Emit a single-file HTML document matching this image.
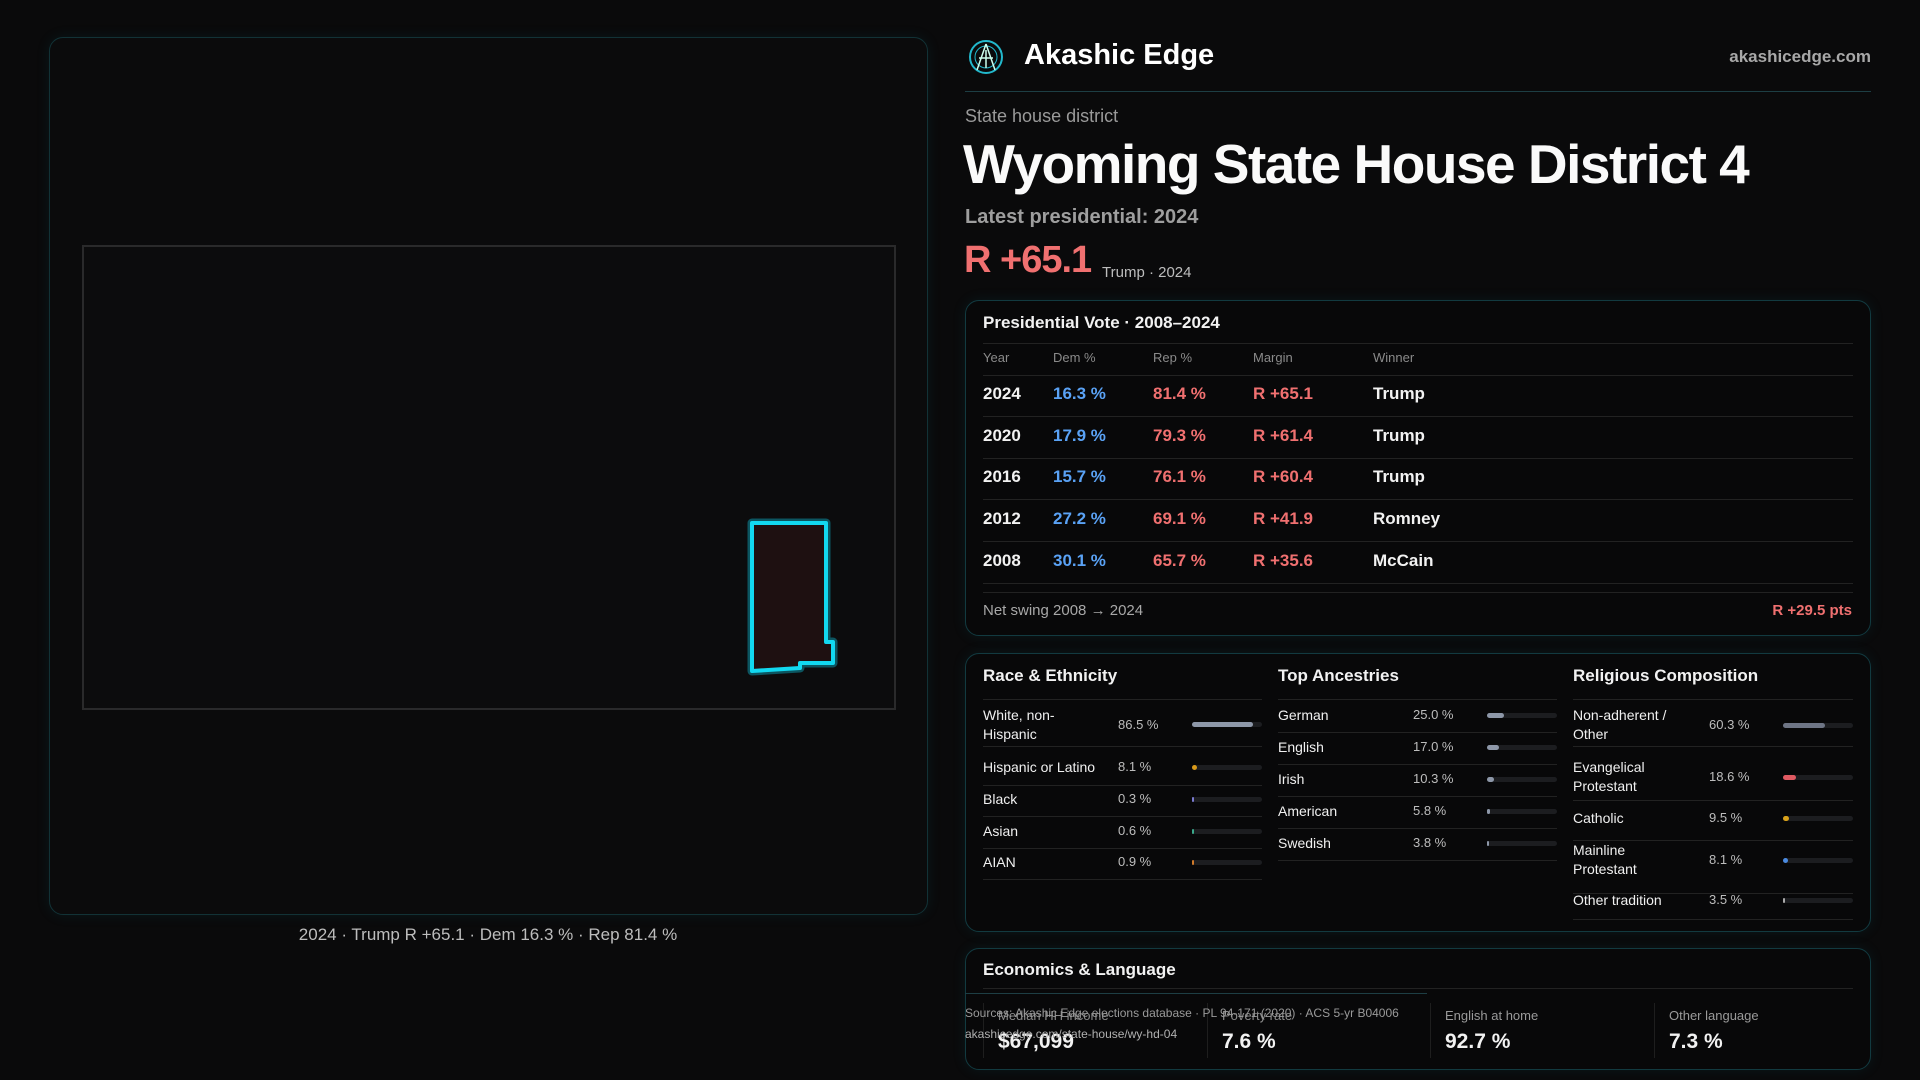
<!DOCTYPE html>
<html><head><meta charset="utf-8"><style>
*{margin:0;padding:0;box-sizing:border-box}
body{width:1920px;height:1080px;background:#0a0a0b;font-family:"Liberation Sans",sans-serif;color:#f2f2f2;position:relative;overflow:hidden}
.a{position:absolute;white-space:nowrap}
.card{position:absolute;border:1.5px solid #123a40;border-radius:14px;background:#080809;box-shadow:0 0 14px rgba(20,120,140,0.12)}
.sep{position:absolute;height:1px;background:#222}
.blue{color:#5aa2f5}.red{color:#f07070}
.bar{position:absolute;height:5px;border-radius:3px;background:#1c1d20}
.fill{position:absolute;left:0;top:0;height:5px;border-radius:3px}
.lbl{font-size:14px;color:#f0f0f0;line-height:19px}
.val{font-size:13px;color:#bdbdbd}
</style></head><body>

<!-- left map panel -->
<div class="card" style="left:49px;top:37px;width:879px;height:878px;background:#0b0b0c;border-color:#123236"></div>
<div class="a" style="left:82px;top:245px;width:814px;height:465px;border:2px solid #2a2a2b;background:#0c0c0d"></div>
<svg class="a" style="left:0;top:0" width="1920" height="1080">
<polygon points="752,523 826,523 826,642 833,642 833,663 800,663 800,668 752,671" fill="#1e1011" stroke="#0c5560" stroke-width="9" stroke-linejoin="round"/>
<polygon points="752,523 826,523 826,642 833,642 833,663 800,663 800,668 752,671" fill="#1e1011" stroke="#12d8f0" stroke-width="4" stroke-linejoin="round"/>
</svg>
<div class="a" style="left:0;width:976px;top:925px;text-align:center;font-size:17px;color:#bdbdbd">2024 · Trump R +65.1 · Dem 16.3 % · Rep 81.4 %</div>

<!-- header -->
<svg class="a" style="left:967px;top:38px" width="38" height="38"><circle cx="19" cy="19" r="16" fill="none" stroke="#22b8cc" stroke-width="2"/><circle cx="19" cy="19" r="11" fill="none" stroke="#22b8cc" stroke-width="1"/><path d="M19 6 L10 32 M19 6 L28 32 M12 20 L26 20 M19 12 L19 30" stroke="#cfe" stroke-width="1.5"/></svg>
<div class="a" style="left:1024px;top:39px;font-size:29px;font-weight:bold;color:#fff">Akashic Edge</div>
<div class="a" style="right:49px;top:47px;font-size:17px;font-weight:bold;color:#a8a8a8">akashicedge.com</div>
<div class="a" style="left:965px;top:91px;width:906px;height:1px;background:#1d3e44"></div>
<div class="a" style="left:965px;top:106px;font-size:18px;color:#9a9a9a">State house district</div>
<div class="a" style="left:963px;top:132px;font-size:55px;font-weight:bold;color:#fafafa;letter-spacing:-1.5px">Wyoming State House District 4</div>
<div class="a" style="left:965px;top:206px;font-size:20px;font-weight:bold;color:#9e9e9e">Latest presidential: 2024</div>
<div class="a" style="left:964px;top:239px;font-size:38px;font-weight:bold;color:#f07070;letter-spacing:-1px">R +65.1</div>
<div class="a" style="left:1102px;top:264px;font-size:15px;color:#bdbdbd">Trump · 2024</div>

<!-- presidential card -->
<div class="card" style="left:965px;top:300px;width:906px;height:336px"></div>
<div class="a" style="left:983px;top:313px;font-size:17px;font-weight:bold">Presidential Vote · 2008–2024</div>
<div class="sep" style="left:983px;top:343px;width:870px"></div>
<div class="a" style="left:983px;top:350px;font-size:13px;color:#8a8a8a">Year</div>
<div class="a" style="left:1053px;top:350px;font-size:13px;color:#8a8a8a">Dem %</div>
<div class="a" style="left:1153px;top:350px;font-size:13px;color:#8a8a8a">Rep %</div>
<div class="a" style="left:1253px;top:350px;font-size:13px;color:#8a8a8a">Margin</div>
<div class="a" style="left:1373px;top:350px;font-size:13px;color:#8a8a8a">Winner</div>
<div class="sep" style="left:983px;top:375px;width:870px"></div>
<div style="position:absolute;left:983px;top:384px;font-size:17px;font-weight:bold">
<div class="a" style="top:0">2024</div><div class="a blue" style="left:70px;top:0">16.3 %</div><div class="a red" style="left:170px;top:0">81.4 %</div><div class="a red" style="left:270px;top:0">R +65.1</div><div class="a" style="left:390px;top:0">Trump</div>
<div class="a" style="top:42px">2020</div><div class="a blue" style="left:70px;top:42px">17.9 %</div><div class="a red" style="left:170px;top:42px">79.3 %</div><div class="a red" style="left:270px;top:42px">R +61.4</div><div class="a" style="left:390px;top:42px">Trump</div>
<div class="a" style="top:83px">2016</div><div class="a blue" style="left:70px;top:83px">15.7 %</div><div class="a red" style="left:170px;top:83px">76.1 %</div><div class="a red" style="left:270px;top:83px">R +60.4</div><div class="a" style="left:390px;top:83px">Trump</div>
<div class="a" style="top:125px">2012</div><div class="a blue" style="left:70px;top:125px">27.2 %</div><div class="a red" style="left:170px;top:125px">69.1 %</div><div class="a red" style="left:270px;top:125px">R +41.9</div><div class="a" style="left:390px;top:125px">Romney</div>
<div class="a" style="top:167px">2008</div><div class="a blue" style="left:70px;top:167px">30.1 %</div><div class="a red" style="left:170px;top:167px">65.7 %</div><div class="a red" style="left:270px;top:167px">R +35.6</div><div class="a" style="left:390px;top:167px">McCain</div>
</div>
<div class="sep" style="left:983px;top:416px;width:870px"></div>
<div class="sep" style="left:983px;top:458px;width:870px"></div>
<div class="sep" style="left:983px;top:499px;width:870px"></div>
<div class="sep" style="left:983px;top:541px;width:870px"></div>
<div class="sep" style="left:983px;top:583px;width:870px"></div>
<div class="sep" style="left:983px;top:592px;width:870px"></div>
<div class="a" style="left:983px;top:602px;font-size:15px;color:#a8a8a8">Net swing 2008 → 2024</div>
<div class="a red" style="right:68px;top:602px;font-size:15px;font-weight:bold">R +29.5 pts</div>

<!-- demographics card -->
<div class="card" style="left:965px;top:653px;width:906px;height:279px"></div>
<div class="a" style="left:983px;top:666px;font-size:17px;font-weight:bold">Race &amp; Ethnicity</div>
<div class="a" style="left:1278px;top:666px;font-size:17px;font-weight:bold">Top Ancestries</div>
<div class="a" style="left:1573px;top:666px;font-size:17px;font-weight:bold">Religious Composition</div>
<div class="sep" style="left:983px;top:699px;width:279px"></div>
<div class="sep" style="left:1278px;top:699px;width:279px"></div>
<div class="sep" style="left:1573px;top:699px;width:280px"></div>

<!-- race -->
<div class="a lbl" style="left:983px;top:706px">White, non-<br>Hispanic</div><div class="a val" style="left:1118px;top:717px">86.5 %</div><div class="bar" style="left:1192px;top:722px;width:70px"><div class="fill" style="width:61px;background:#8d97a8"></div></div>
<div class="sep" style="left:983px;top:746px;width:279px"></div>
<div class="a lbl" style="left:983px;top:758px">Hispanic or Latino</div><div class="a val" style="left:1118px;top:759px">8.1 %</div><div class="bar" style="left:1192px;top:765px;width:70px"><div class="fill" style="width:5px;background:#d99a1a"></div></div>
<div class="sep" style="left:983px;top:785px;width:279px"></div>
<div class="a lbl" style="left:983px;top:790px">Black</div><div class="a val" style="left:1118px;top:791px">0.3 %</div><div class="bar" style="left:1192px;top:797px;width:70px"><div class="fill" style="width:2px;background:#7a7ad0"></div></div>
<div class="sep" style="left:983px;top:816px;width:279px"></div>
<div class="a lbl" style="left:983px;top:822px">Asian</div><div class="a val" style="left:1118px;top:823px">0.6 %</div><div class="bar" style="left:1192px;top:829px;width:70px"><div class="fill" style="width:2px;background:#3aa88a"></div></div>
<div class="sep" style="left:983px;top:848px;width:279px"></div>
<div class="a lbl" style="left:983px;top:853px">AIAN</div><div class="a val" style="left:1118px;top:854px">0.9 %</div><div class="bar" style="left:1192px;top:860px;width:70px"><div class="fill" style="width:2px;background:#d07a2a"></div></div>
<div class="sep" style="left:983px;top:879px;width:279px"></div>

<!-- ancestry -->
<div class="a lbl" style="left:1278px;top:706px">German</div><div class="a val" style="left:1413px;top:707px">25.0 %</div><div class="bar" style="left:1487px;top:713px;width:70px"><div class="fill" style="width:17px;background:#8d97a8"></div></div>
<div class="sep" style="left:1278px;top:732px;width:279px"></div>
<div class="a lbl" style="left:1278px;top:738px">English</div><div class="a val" style="left:1413px;top:739px">17.0 %</div><div class="bar" style="left:1487px;top:745px;width:70px"><div class="fill" style="width:12px;background:#8d97a8"></div></div>
<div class="sep" style="left:1278px;top:764px;width:279px"></div>
<div class="a lbl" style="left:1278px;top:770px">Irish</div><div class="a val" style="left:1413px;top:771px">10.3 %</div><div class="bar" style="left:1487px;top:777px;width:70px"><div class="fill" style="width:7px;background:#8d97a8"></div></div>
<div class="sep" style="left:1278px;top:796px;width:279px"></div>
<div class="a lbl" style="left:1278px;top:802px">American</div><div class="a val" style="left:1413px;top:803px">5.8 %</div><div class="bar" style="left:1487px;top:809px;width:70px"><div class="fill" style="width:3px;background:#8d97a8"></div></div>
<div class="sep" style="left:1278px;top:828px;width:279px"></div>
<div class="a lbl" style="left:1278px;top:834px">Swedish</div><div class="a val" style="left:1413px;top:835px">3.8 %</div><div class="bar" style="left:1487px;top:841px;width:70px"><div class="fill" style="width:2px;background:#8d97a8"></div></div>
<div class="sep" style="left:1278px;top:860px;width:279px"></div>

<!-- religion -->
<div class="a lbl" style="left:1573px;top:706px">Non-adherent /<br>Other</div><div class="a val" style="left:1709px;top:717px">60.3 %</div><div class="bar" style="left:1783px;top:723px;width:70px"><div class="fill" style="width:42px;background:#6e7585"></div></div>
<div class="sep" style="left:1573px;top:746px;width:280px"></div>
<div class="a lbl" style="left:1573px;top:758px">Evangelical<br>Protestant</div><div class="a val" style="left:1709px;top:769px">18.6 %</div><div class="bar" style="left:1783px;top:775px;width:70px"><div class="fill" style="width:13px;background:#e05a62"></div></div>
<div class="sep" style="left:1573px;top:800px;width:280px"></div>
<div class="a lbl" style="left:1573px;top:809px">Catholic</div><div class="a val" style="left:1709px;top:810px">9.5 %</div><div class="bar" style="left:1783px;top:816px;width:70px"><div class="fill" style="width:6px;background:#d9a21a"></div></div>
<div class="sep" style="left:1573px;top:840px;width:280px"></div>
<div class="a lbl" style="left:1573px;top:841px">Mainline<br>Protestant</div><div class="a val" style="left:1709px;top:852px">8.1 %</div><div class="bar" style="left:1783px;top:858px;width:70px"><div class="fill" style="width:5px;background:#4a8ae0"></div></div>
<div class="sep" style="left:1573px;top:893px;width:280px"></div>
<div class="a lbl" style="left:1573px;top:891px">Other tradition</div><div class="a val" style="left:1709px;top:892px">3.5 %</div><div class="bar" style="left:1783px;top:898px;width:70px"><div class="fill" style="width:2px;background:#aaa"></div></div>
<div class="sep" style="left:1573px;top:919px;width:280px"></div>

<!-- economics card -->
<div class="card" style="left:965px;top:948px;width:906px;height:122px"></div>
<div class="a" style="left:983px;top:960px;font-size:17px;font-weight:bold">Economics &amp; Language</div>
<div class="sep" style="left:983px;top:988px;width:870px"></div>
<div class="a" style="left:965px;top:993px;width:462px;height:1px;background:#1d3e44"></div>
<div class="a" style="left:983px;top:1003px;width:1px;height:55px;background:#1e1e1e"></div>
<div class="a" style="left:1207px;top:1003px;width:1px;height:55px;background:#1e1e1e"></div>
<div class="a" style="left:1430px;top:1003px;width:1px;height:55px;background:#1e1e1e"></div>
<div class="a" style="left:1654px;top:1003px;width:1px;height:55px;background:#1e1e1e"></div>
<div class="a" style="left:998px;top:1008px;font-size:13px;color:#8a8a8a">Median HH income</div>
<div class="a" style="left:998px;top:1030px;font-size:21px;font-weight:bold">$67,099</div>
<div class="a" style="left:1222px;top:1008px;font-size:13px;color:#8a8a8a">Poverty rate</div>
<div class="a" style="left:1222px;top:1030px;font-size:21px;font-weight:bold">7.6 %</div>
<div class="a" style="left:1445px;top:1008px;font-size:13px;color:#9a9a9a">English at home</div>
<div class="a" style="left:1445px;top:1030px;font-size:21px;font-weight:bold">92.7 %</div>
<div class="a" style="left:1669px;top:1008px;font-size:13px;color:#9a9a9a">Other language</div>
<div class="a" style="left:1669px;top:1030px;font-size:21px;font-weight:bold">7.3 %</div>
<div class="a" style="left:965px;top:1006px;font-size:12px;color:#9a9a9a">Sources: Akashic Edge elections database · PL 94-171 (2020) · ACS 5-yr B04006</div>
<div class="a" style="left:965px;top:1027px;font-size:12px;color:#b0b0b0">akashicedge.com/state-house/wy-hd-04</div>
</body></html>
